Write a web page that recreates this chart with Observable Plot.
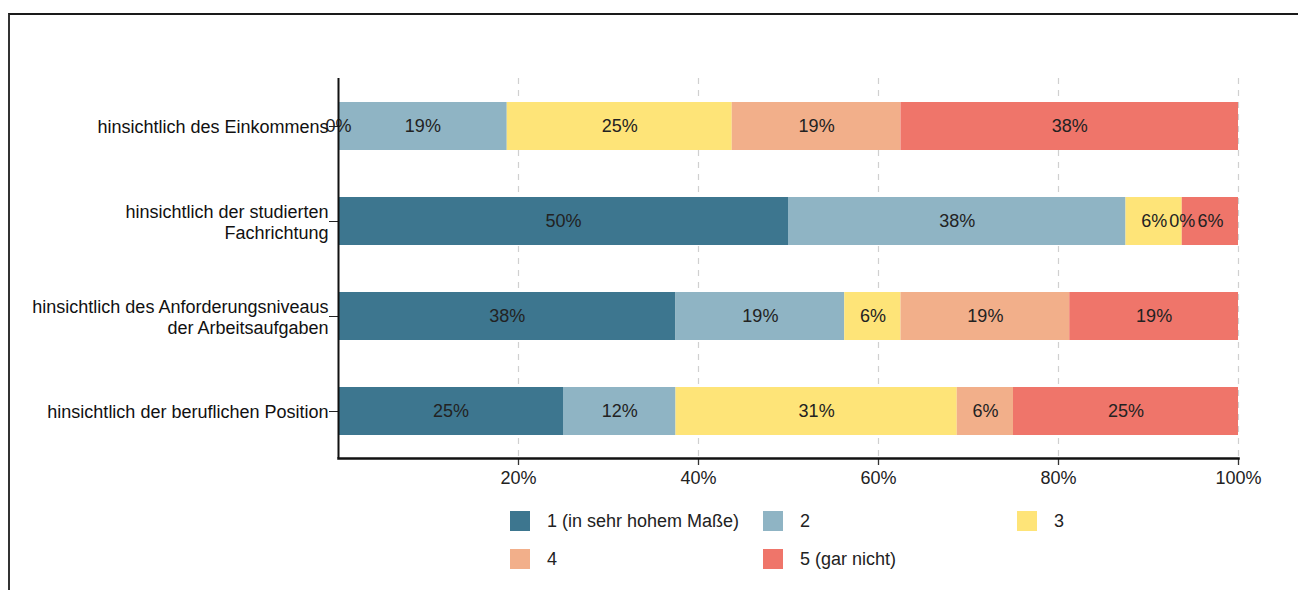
<!DOCTYPE html>
<html>
<head>
<meta charset="utf-8">
<script src="https://cdn.jsdelivr.net/npm/d3@7"></script>
<script src="https://cdn.jsdelivr.net/npm/@observablehq/plot@0.6"></script>
<style>
  html, body { margin: 0; padding: 0; background: #fff; }
  #wrap { position: relative; width: 1298px; height: 590px; overflow: hidden; font-family: "Liberation Sans", Arial, sans-serif; }
  #box { position: absolute; left: 8px; top: 13px; width: 1300px; height: 600px; border-top: 2px solid #1a1a1a; border-left: 2px solid #333; box-sizing: border-box; }
  #chart { position: absolute; left: 0; top: 0; }
  #legend { position: absolute; left: 0; top: 0; width: 1298px; height: 590px; pointer-events: none; }
  .item { position: absolute; display: flex; align-items: center; font-size: 18px; color: #222; height: 20px; }
  .sw { width: 20px; height: 20px; margin-right: 17px; }
</style>
</head>
<body>
<div id="wrap">
  <div id="box"></div>
  <div id="chart"></div>
  <div id="legend"></div>
</div>
<script>
const categories = [
  "hinsichtlich des Einkommens",
  "hinsichtlich der studierten\nFachrichtung",
  "hinsichtlich des Anforderungsniveaus\nder Arbeitsaufgaben",
  "hinsichtlich der beruflichen Position"
];
const levels = ["1 (in sehr hohem Maße)", "2", "3", "4", "5 (gar nicht)"];
const colors = ["#3d768f", "#8fb4c4", "#fee478", "#f2af8a", "#ef756a"];
// share (%) per level, in category order
const level1 = [0, 50, 37.5, 25];
const level2 = [18.75, 37.5, 18.75, 12.5];
const level3 = [25, 6.25, 6.25, 31.25];
const level4 = [18.75, 0, 18.75, 6.25];
const level5 = [37.5, 6.25, 18.75, 25];
const xTicks = [20, 40, 60, 80, 100];
const xTickLabels = ["20%", "40%", "60%", "80%", "100%"];

function roundHalfEven(v) {
  const f = Math.floor(v);
  if (Math.abs(v - f - 0.5) < 1e-9) return f % 2 === 0 ? f : f + 1;
  return Math.round(v);
}

const series = [level1, level2, level3, level4, level5];
const rows = [];
series.forEach((vals, li) => {
  vals.forEach((v, ci) => {
    rows.push({category: categories[ci], level: levels[li], value: v, label: roundHalfEven(v) + "%"});
  });
});

const plot = Plot.plot({
  width: 1298,
  height: 500,
  marginLeft: 338,
  marginRight: 60,
  marginTop: 78,
  marginBottom: 42,
  style: {fontFamily: "'Liberation Sans', Arial, sans-serif", fontSize: "18px", color: "#222", background: "transparent"},
  x: {domain: [0, 100]},
  y: {domain: categories, paddingInner: 0.5, paddingOuter: 0.25},
  color: {domain: levels, range: colors},
  marks: [
    Plot.ruleX(xTicks, {x: d => d, stroke: "#d0d0d0", strokeWidth: 1.2, strokeDasharray: "6,6"}),
    Plot.barX(rows, Plot.stackX({x: "value", y: "category", fill: "level", order: null})),
    Plot.text(rows, Plot.stackX({x: "value", y: "category", z: "level", text: "label", fill: "#222", fontSize: 18, order: null})),
    Plot.axisX({ticks: xTicks, tickFormat: (d) => xTickLabels[xTicks.indexOf(d)], tickSize: 7, tickPadding: 6, stroke: "#333", strokeWidth: 1.3, fill: "#222", fontSize: 18, label: null}),
    Plot.axisY({tickSize: 9, tickPadding: 1, stroke: "#222", fill: "#111", fontSize: 18, label: null, lineHeight: 1.17}),
    Plot.ruleX([0], {stroke: "#111", strokeWidth: 2}),
    Plot.frame({anchor: "bottom", stroke: "#111", strokeWidth: 2.5})
  ]
});
document.getElementById("chart").appendChild(plot);

// legend
const legendPos = [
  {left: 510, top: 511}, {left: 763, top: 511}, {left: 1017, top: 511},
  {left: 510, top: 549}, {left: 763, top: 549}
];
const lg = document.getElementById("legend");
levels.forEach((lv, i) => {
  const it = document.createElement("div");
  it.className = "item";
  it.style.left = legendPos[i].left + "px";
  it.style.top = legendPos[i].top + "px";
  const sw = document.createElement("div");
  sw.className = "sw";
  sw.style.background = plot.scale("color").apply(lv);
  const tx = document.createElement("span");
  tx.textContent = lv;
  it.appendChild(sw);
  it.appendChild(tx);
  lg.appendChild(it);
});
</script>
</body>
</html>
